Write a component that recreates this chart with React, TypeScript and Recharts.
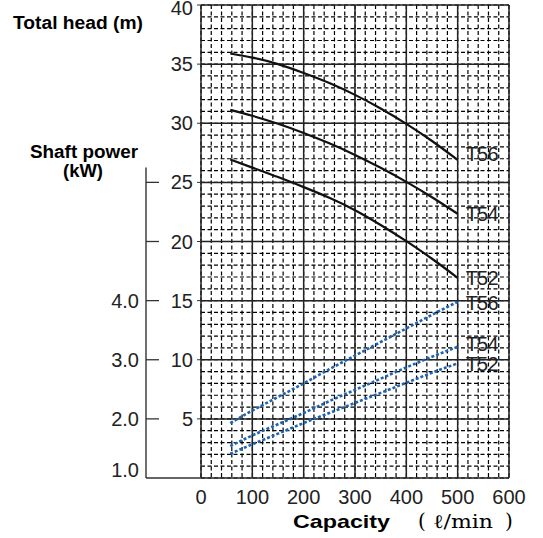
import React from 'react';
import { ComposedChart, Line, XAxis, YAxis, CartesianGrid } from 'recharts';

// ---- data ----
const capacity = [57, 100, 150, 200, 250, 300, 350, 400, 450, 500];
const headT56 = [35.9, 35.55, 35.0, 34.25, 33.4, 32.4, 31.25, 29.95, 28.5, 26.9];
const headT54 = [31.13, 30.63, 29.96, 29.18, 28.3, 27.32, 26.23, 25.04, 23.74, 22.34];
const headT52 = [26.94, 26.25, 25.45, 24.6, 23.7, 22.65, 21.4, 20.03, 18.54, 16.93];
const powerT56 = [1.93, 2.14, 2.37, 2.6, 2.84, 3.07, 3.3, 3.53, 3.76, 3.98];
const powerT54 = [1.54, 1.72, 1.91, 2.1, 2.3, 2.49, 2.68, 2.87, 3.05, 3.22];
const powerT52 = [1.41, 1.57, 1.75, 1.93, 2.1, 2.27, 2.44, 2.61, 2.78, 2.94];

const capacityTicks = [0, 100, 200, 300, 400, 500, 600];
const headTicks = [5, 10, 15, 20, 25, 30, 35, 40];
const powerTicks = [1, 2, 3, 4, 5, 6];
const powerLabelled = [1, 2, 3, 4];

const HEAD_DOMAIN: [number, number] = [0, 40];
const POWER_DOMAIN: [number, number] = [1, 9];
const CAP_DOMAIN: [number, number] = [0, 600];
const POWER_AXIS_TOP = 6.25;

const data = capacity.map((q, i) => ({
  q,
  h56: headT56[i],
  h54: headT54[i],
  h52: headT52[i],
  p56: powerT56[i],
  p54: powerT54[i],
  p52: powerT52[i],
}));

// grid line positions
const minorCap = Array.from({ length: 31 }, (_, i) => i * 20);
const majorCap = capacityTicks;
const minorHead = Array.from({ length: 41 }, (_, i) => i);
const majorHead = [0, 5, 10, 15, 20, 25, 30, 35, 40];

const FONT = '"Liberation Sans", Arial, Helvetica, sans-serif';
const SERIF = '"DejaVu Serif", "Liberation Serif", serif';
const TXT = '#222';
const HEAD_AXIS_W = 55;
const POWER_AXIS_W = 146;
const POWER_TICK_MARGIN = 7;

const HeadTick = (props: any) => {
  const { x, y, payload } = props;
  const v = payload.value;
  return (
    <text
      x={x}
      y={v === HEAD_DOMAIN[1] ? y + 3 : y}
      textAnchor="end"
      dominantBaseline="central"
      fontSize={20}
      fontFamily={FONT}
      fill={TXT}
    >
      {v}
    </text>
  );
};

const PowerTick = (props: any) => {
  const { x, y, payload } = props;
  const v = payload.value;
  const edge = x + POWER_TICK_MARGIN;
  return (
    <g>
      {v >= 2 && <line x1={edge} x2={edge + 13} y1={y} y2={y} stroke="#333" strokeWidth={1.3} />}
      {powerLabelled.includes(v) && (
        <text
          x={x}
          y={v === 1 ? y - 8 : y}
          textAnchor="end"
          dominantBaseline="central"
          fontSize={20}
          fontFamily={FONT}
          fill={TXT}
        >
          {v.toFixed(1)}
        </text>
      )}
    </g>
  );
};

const PowerAxisDecor = (props: any) => {
  const vb = props.viewBox || {};
  if (vb.x == null) return null;
  const span = POWER_DOMAIN[1] - POWER_DOMAIN[0];
  const yOf = (v: number) => vb.y + (vb.height * (POWER_DOMAIN[1] - v)) / span;
  const edge = vb.x + vb.width;
  return (
    <g>
      <line x1={edge} x2={edge} y1={yOf(POWER_AXIS_TOP)} y2={yOf(POWER_DOMAIN[0])} stroke="#333" strokeWidth={1.4} />
      <line x1={edge} x2={edge + HEAD_AXIS_W} y1={yOf(POWER_DOMAIN[0])} y2={yOf(POWER_DOMAIN[0])} stroke="#333" strokeWidth={1.4} />
    </g>
  );
};

const endLabel = (text: string, dy: number) => (props: any) => {
  const { x, y, index } = props;
  if (index !== capacity.length - 1) return <g />;
  return (
    <text
      x={x + 8}
      y={y + dy}
      dominantBaseline="central"
      fontSize={20}
      fontFamily={FONT}
      letterSpacing={-0.8}
      fill={TXT}
    >
      {text}
    </text>
  );
};

export default function App() {
  return (
    <div style={{ position: 'absolute', left: 0, top: 0, width: 543, height: 538, background: '#fff' }}>
      <ComposedChart
        width={543}
        height={538}
        data={data}
        margin={{ top: 5, right: 34, bottom: 30, left: 0 }}
      >
        <CartesianGrid
          yAxisId="head"
          xAxisId="cap"
          stroke="#000"
          strokeWidth={1.2}
          strokeDasharray="4 2.5"
          horizontalValues={minorHead}
          verticalValues={minorCap}
        />
        <CartesianGrid
          yAxisId="head"
          xAxisId="cap"
          stroke="#222"
          strokeWidth={1.5}
          horizontalValues={majorHead}
          verticalValues={majorCap}
        />
        <XAxis
          xAxisId="cap"
          dataKey="q"
          type="number"
          domain={CAP_DOMAIN}
          ticks={capacityTicks}
          interval={0}
          tickLine={false}
          axisLine={false}
          tickSize={0}
          tickMargin={12}
          height={30}
          tick={{ fontSize: 20, fontFamily: FONT, fill: TXT }}
        />
        <YAxis
          yAxisId="head"
          orientation="left"
          type="number"
          domain={HEAD_DOMAIN}
          ticks={headTicks}
          interval={0}
          width={HEAD_AXIS_W}
          axisLine={false}
          tickLine={{ stroke: '#333' }}
          tickSize={4}
          tickMargin={4}
          tick={HeadTick}
        />
        <YAxis
          yAxisId="power"
          orientation="left"
          type="number"
          domain={POWER_DOMAIN}
          ticks={powerTicks}
          interval={0}
          width={POWER_AXIS_W}
          axisLine={false}
          tickLine={false}
          tickSize={0}
          tickMargin={POWER_TICK_MARGIN}
          tick={PowerTick}
          label={{ content: PowerAxisDecor }}
        />
        <Line xAxisId="cap" yAxisId="head" type="natural" dataKey="h56" stroke="#111" strokeWidth={2.2} dot={false} isAnimationActive={false} label={endLabel('T56', -6)} />
        <Line xAxisId="cap" yAxisId="head" type="natural" dataKey="h54" stroke="#111" strokeWidth={2.2} dot={false} isAnimationActive={false} label={endLabel('T54', 0)} />
        <Line xAxisId="cap" yAxisId="head" type="natural" dataKey="h52" stroke="#111" strokeWidth={2.2} dot={false} isAnimationActive={false} label={endLabel('T52', 0)} />
        <Line xAxisId="cap" yAxisId="power" type="natural" dataKey="p56" stroke="#1f63b0" strokeWidth={2.6} strokeDasharray="3 2" dot={false} isAnimationActive={false} label={endLabel('T56', 1)} />
        <Line xAxisId="cap" yAxisId="power" type="natural" dataKey="p54" stroke="#1f63b0" strokeWidth={2.6} strokeDasharray="3 2" dot={false} isAnimationActive={false} label={endLabel('T54', -3)} />
        <Line xAxisId="cap" yAxisId="power" type="natural" dataKey="p52" stroke="#1f63b0" strokeWidth={2.6} strokeDasharray="3 2" dot={false} isAnimationActive={false} label={endLabel('T52', 1)} />
        <text x={13} y={29} fontSize={18} fontWeight="bold" fontFamily={FONT} fill="#000" textLength={130} lengthAdjust="spacingAndGlyphs">
          Total head (m)
        </text>
        <text x={30} y={158} fontSize={18} fontWeight="bold" fontFamily={FONT} fill="#000" textLength={108} lengthAdjust="spacingAndGlyphs">
          Shaft power
        </text>
        <text x={63} y={177} fontSize={18} fontWeight="bold" fontFamily={FONT} fill="#000" textLength={40} lengthAdjust="spacingAndGlyphs">
          (kW)
        </text>
        <text x={293} y={528} fontSize={19} fontWeight="bold" fontFamily={FONT} fill="#000" textLength={97} lengthAdjust="spacingAndGlyphs">
          Capacity
        </text>
        <text x={418} y={528} fontSize={20} fontFamily={SERIF} fill="#000">
          (
        </text>
        <text x={433} y={528} fontSize={19} fontFamily={SERIF} fill="#000" textLength={60} lengthAdjust="spacingAndGlyphs">
          ℓ/min
        </text>
        <text x={505} y={528} fontSize={20} fontFamily={SERIF} fill="#000">
          )
        </text>
      </ComposedChart>
    </div>
  );
}
